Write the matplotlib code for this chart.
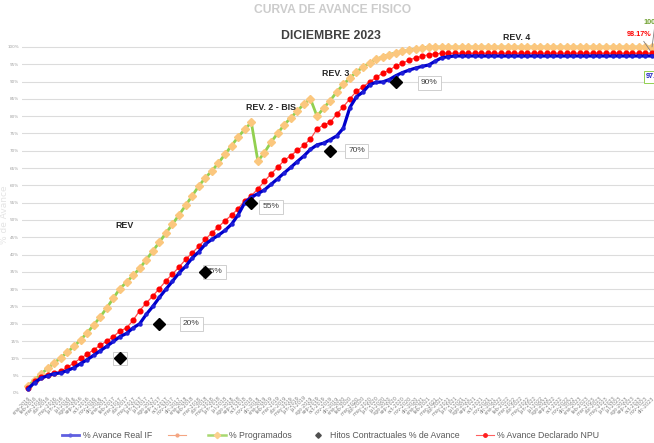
import matplotlib
matplotlib.use("Agg")
import matplotlib.pyplot as plt
from matplotlib.lines import Line2D

# ---------------- data ----------------
meses = ["ene", "feb", "mar", "abr", "may", "jun", "jul", "ago", "sep", "oct", "nov", "dic"]
years = [2016, 2017, 2018, 2019, 2020, 2021, 2022, 2023]
fechas = [f"{m}-{y}" for y in years for m in meses]

programado = [2.0, 3.8, 5.5, 7.1, 8.7, 10.2, 11.8, 13.5, 15.3, 17.4,
              19.6, 22.0, 24.6, 27.4, 30.2, 32.0, 34.0, 36.0, 38.5, 41.0,
              43.6, 46.2, 48.8, 51.5, 54.2, 57.0, 59.8, 62.2, 64.2, 66.5,
              69.0, 71.5, 74.0, 76.2, 78.2, 67.0, 69.5, 72.5, 75.0, 77.5,
              79.5, 81.5, 83.5, 85.0, 80.0, 82.3, 84.5, 87.0, 89.2, 91.0,
              92.8, 94.2, 95.4, 96.4, 97.2, 97.8, 98.3, 98.7, 99.1, 99.4,
              99.7, 100.0, 100.0, 100.0, 100.0, 100.0, 100.0, 100.0, 100.0, 100.0,
              100.0, 100.0, 100.0, 100.0, 100.0, 100.0, 100.0, 100.0, 100.0, 100.0,
              100.0, 100.0, 100.0, 100.0, 100.0, 100.0, 100.0, 100.0, 100.0, 100.0,
              100.0, 100.0, 100.0, 100.0, 100.0, 100.0]

declarado_npu = [1.5, 3.5, 4.6, 5.2, 5.7, 6.3, 7.4, 8.7, 10.0, 11.2,
                 12.5, 13.8, 15.0, 16.3, 17.9, 18.8, 21.0, 23.8, 26.0, 28.0,
                 30.2, 32.4, 34.4, 36.4, 38.6, 40.5, 42.4, 44.4, 46.3, 48.0,
                 49.8, 51.4, 53.3, 55.6, 57.0, 59.0, 61.2, 63.3, 65.2, 67.2,
                 68.6, 70.1, 71.6, 73.4, 76.3, 77.5, 78.2, 80.6, 82.7, 85.0,
                 87.2, 88.5, 89.9, 91.2, 92.5, 93.3, 94.5, 95.3, 96.2, 96.9,
                 97.3, 97.8, 98.0, 98.17, 98.17, 98.17, 98.17, 98.17, 98.17, 98.17,
                 98.17, 98.17, 98.17, 98.17, 98.17, 98.17, 98.17, 98.17, 98.17, 98.17,
                 98.17, 98.17, 98.17, 98.17, 98.17, 98.17, 98.17, 98.17, 98.17, 98.17,
                 98.17, 98.17, 98.17, 98.17, 98.17, 98.17]

real_if = [1.2, 3.0, 4.3, 5.0, 5.6, 5.8, 6.5, 7.3, 8.5, 9.6,
           10.9, 12.2, 13.5, 14.9, 16.3, 17.2, 18.8, 20.0, 22.7, 25.0,
           27.6, 30.0, 32.3, 34.7, 36.6, 39.0, 40.8, 43.0, 44.4, 45.6,
           47.0, 48.8, 51.5, 55.0, 56.6, 57.6, 58.7, 60.3, 61.9, 63.6,
           65.2, 66.9, 68.5, 70.4, 71.7, 72.2, 73.2, 74.3, 76.5, 82.5,
           85.6, 87.0, 89.1, 89.8, 89.9, 90.6, 91.7, 92.6, 93.3, 93.9,
           94.4, 94.8, 95.9, 96.9, 97.2, 97.4, 97.4, 97.4, 97.4, 97.4,
           97.4, 97.4, 97.4, 97.4, 97.4, 97.4, 97.4, 97.4, 97.4, 97.4,
           97.4, 97.4, 97.4, 97.4, 97.4, 97.4, 97.4, 97.4, 97.4, 97.4,
           97.4, 97.4, 97.4, 97.4, 97.4, 97.4]

hitos_idx = [14, 20, 27, 34, 46, 56]
hitos_val = [10, 20, 35, 55, 70, 90]
hitos_lab = ["   ", "20%", "35%", "55%", "70%", "90%"]
hitos_off = [(0, 0), (17, 0), (0.5, 0), (8, -3), (13, 0), (18, -1)]

rev_labels = ["REV", "REV. 2 - BIS", "REV. 3", "REV. 4"]
rev_pos = [(125, 225), (271, 107), (336, 73), (517, 37)]

# ---------------- figure ----------------
W, H = 654, 443
fig = plt.figure(figsize=(W / 100, H / 100), dpi=100)
ax = fig.add_axes([22 / W, 50 / H, (W - 22) / W, 356.4 / H])

narrow = ["Liberation Sans Narrow", "Liberation Sans", "DejaVu Sans"]

x = list(range(len(fechas)))

ax.plot(x, programado, color="#92d050", lw=2.0, marker="D", ms=4.2,
        mfc="#fbc77e", mec="#fbc77e", zorder=3, clip_on=False)
ax.plot(x, declarado_npu, color="#ff4a4a", lw=0.9, marker="o", ms=3.4,
        mfc="#ff0000", mec="#ff0000", zorder=4, clip_on=False)
ax.plot(x, real_if, color="#0000cc", lw=2.3, marker="o", ms=2.2,
        mfc="#1f1fd8", mec="#1f1fd8", zorder=5, clip_on=False)

for i, v, lab, off in zip(hitos_idx, hitos_val, hitos_lab, hitos_off):
    ax.annotate(lab, xy=(i, v), xytext=off, textcoords="offset points",
                ha="left" if lab.strip() else "center", va="center",
                fontsize=6.0, color="#404040", family=narrow, zorder=6,
                bbox=dict(boxstyle="square,pad=0.4", fc="white", ec="#c8c8c8", lw=0.6))
ax.plot(hitos_idx, hitos_val, ls="none", marker="D", ms=6, color="black", zorder=7)

ax.set_xlim(-0.91, 95.3)
ax.set_ylim(0, 103)
ax.set_yticks(range(0, 101, 5))
ax.set_yticklabels([f"{v}%" for v in range(0, 101, 5)], fontsize=3.0, color="#a0a0a0")
ax.set_xticks(x)
ax.set_xticklabels(fechas, rotation=45, ha="right", rotation_mode="anchor",
                   fontsize=3.5, color="#808080")
ax.tick_params(length=0, pad=2)
ax.yaxis.grid(True, color="#dcdcdc", lw=0.8)
ax.set_axisbelow(True)
for s in ax.spines.values():
    s.set_visible(False)

def fp(px, py):
    return (px / W, 1 - py / H)

# titles
fig.text(*fp(333, 10), "CURVA DE AVANCE FISICO", ha="center", va="center",
         fontsize=8.7, fontweight="bold", color="#cccccc", family=narrow)
fig.text(*fp(331, 36), "DICIEMBRE 2023", ha="center", va="center",
         fontsize=8.8, fontweight="bold", color="#404040", family=narrow)
fig.text(*fp(5, 215), "% de Avance", rotation=90, ha="center", va="center",
         fontsize=6.5, color="#e4e4e4")

for lab, (px, py) in zip(rev_labels, rev_pos):
    fig.text(*fp(px, py), lab, ha="center", va="center", fontsize=6.4,
             fontweight="bold", color="#262626", family=narrow)

# end-of-series labels (clipped at the right edge as in the source)
ax.annotate("100.0%", xy=(x[-1], programado[-1]), xycoords="data",
            xytext=(643, H - 22), textcoords="figure pixels", ha="left", va="center",
            fontsize=5.2, color="#70a030", family=narrow, fontweight="bold",
            arrowprops=dict(arrowstyle="-", color="#808080", lw=0.6,
                            shrinkA=0, shrinkB=0))
ax.annotate("98.17%", xy=(x[-1], declarado_npu[-1]), xycoords="data",
            xytext=(627, H - 35), textcoords="figure pixels", ha="left", va="center",
            fontsize=5.2, color="#ff0000", family=narrow, fontweight="bold",
            arrowprops=dict(arrowstyle="-", color="#808080", lw=0.6,
                            shrinkA=0, shrinkB=0))
fig.text(*fp(646, 77), f"{real_if[-1]:.2f}%", ha="left", va="center",
         fontsize=5.2, color="#2020c0", family=narrow, fontweight="bold",
         bbox=dict(boxstyle="square,pad=0.3", fc="white", ec="#92d050", lw=0.7))

# legend
handles = [
    Line2D([], [], color="#6060e0", lw=2.0, marker="o", ms=2.0),
    Line2D([], [], color="#f4a582", lw=0.8, marker="o", ms=2.0),
    Line2D([], [], color="#a8d870", lw=1.8, marker="D", ms=3.2, mfc="#fbd08e", mec="#fbd08e"),
    Line2D([], [], ls="none", marker="D", ms=2.8, color="#505050"),
    Line2D([], [], color="#ff6060", lw=0.8, marker="o", ms=2.5, mfc="#ff2020", mec="#ff2020"),
]
labels = ["% Avance Real IF", " ", "% Programados",
          "Hitos Contractuales % de Avance", "% Avance Declarado NPU"]
fig.legend(handles, labels, loc="center", bbox_to_anchor=(0.505, 1 - 436 / H),
           ncol=5, frameon=False, labelcolor="#595959",
           prop={"family": narrow, "size": 6.3},
           handlelength=2.0, columnspacing=1.9, handletextpad=0.4)

fig.savefig("out.png", dpi=100)
